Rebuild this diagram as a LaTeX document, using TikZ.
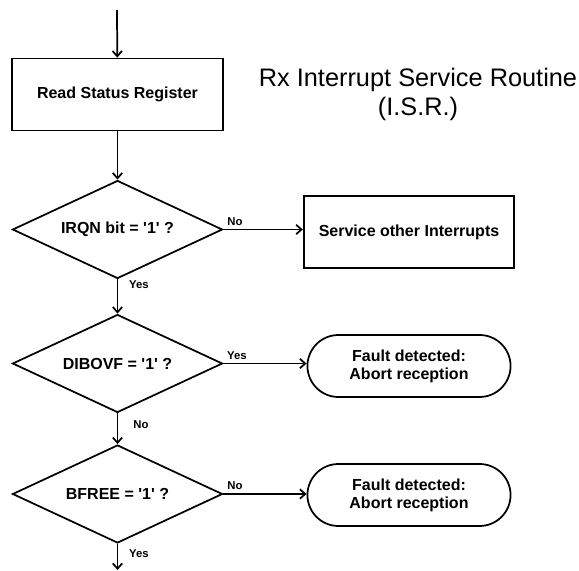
\documentclass[tikz,border=0pt]{standalone}
\usepackage{fontspec}
\setmainfont{Liberation Sans}
\usetikzlibrary{arrows.meta,shapes.geometric,shapes.misc,positioning,calc}

\begin{document}
\begin{tikzpicture}[x=0.75pt, y=-0.75pt, line width=1.3pt,
    box/.style={rectangle, draw, minimum width=158pt, minimum height=54pt, font=\fontsize{12}{14}\selectfont\bfseries},
    test/.style={diamond, draw, aspect=2.14, inner sep=0pt, minimum width=157.5pt, minimum height=73.5pt, font=\fontsize{12}{14}\selectfont\bfseries},
    fault/.style={rounded rectangle, draw, minimum width=159pt, minimum height=46.5pt, align=center, font=\fontsize{12}{13.5}\selectfont\bfseries},
    lbl/.style={font=\fontsize{8.5}{10}\selectfont\bfseries, inner sep=0pt},
    flow/.style={-{Straight Barb[length=4pt, width=7pt]}}]
    \useasboundingbox (0,0) rectangle (579,571);

    % Title
    \node[anchor=base, font=\fontsize{19}{22}\selectfont] (title) at (418, 86) {Rx Interrupt Service Routine};
    \node[anchor=base, font=\fontsize{19}{22}\selectfont] (isr) at (418, 115) {(I.S.R.)};

    % Main column
    \coordinate (start) at (117, 10);
    \node[box] (read) at (117.5, 94.5) {Read Status Register};
    \node[test] (irqn) at (117.5, 229.5) {IRQN bit = \textquotesingle1\textquotesingle\ ?};
    \node[test] (dibovf) at (117.5, 363.5) {DIBOVF = \textquotesingle1\textquotesingle\ ?};
    \node[test] (bfree) at (117.5, 494) {BFREE = \textquotesingle1\textquotesingle\ ?};
    \coordinate (stop) at (117.5, 570);

    % Right column
    \node[box] (other) at (409, 232) {Service other Interrupts};
    \node[fault] (abort1) at (409, 366) {Fault detected:\\Abort reception};
    \node[fault] (abort2) at (409, 495) {Fault detected:\\Abort reception};

    \draw[flow] (start) -- (read);
    \draw[flow] (read) -- (irqn);
    \draw[flow] (irqn) -- (dibovf);
    \draw[flow] (dibovf) -- (bfree);
    \draw[flow] (bfree) -- (stop);
    \draw[flow] (irqn.east) -- (irqn.east -| other.west);
    \draw[flow] (dibovf.east) -- (dibovf.east -| abort1.west);
    \draw[flow] (bfree.east) -- (bfree.east -| abort2.west);

    % Branch labels
    \node[lbl] (no1) at (235, 222) {No};
    \node[lbl] (yes1) at (139, 285) {Yes};
    \node[lbl] (yes2) at (237, 356) {Yes};
    \node[lbl] (no2) at (141, 425) {No};
    \node[lbl] (no3) at (235, 486) {No};
    \node[lbl] (yes3) at (139, 554) {Yes};
\end{tikzpicture}
\end{document}
